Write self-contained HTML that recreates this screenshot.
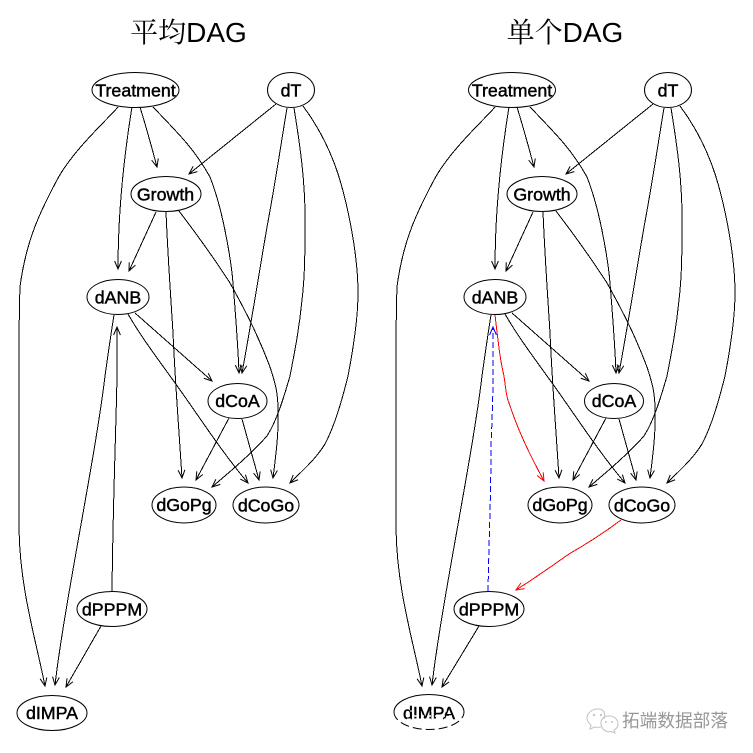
<!DOCTYPE html>
<html>
<head>
<meta charset="utf-8">
<style>
html,body{margin:0;padding:0;background:#fff;width:753px;height:753px;overflow:hidden}
svg{display:block}
.t{font-family:"Liberation Sans",sans-serif;font-size:17.8px;text-anchor:middle;fill:#000;stroke:#000;stroke-width:.45}
.h{font-family:"Liberation Sans","Noto Serif CJK SC",serif;font-size:28px;text-anchor:middle;fill:#000}
.wm{font-family:"Liberation Sans","Noto Sans CJK SC",sans-serif;font-size:18px;fill:#979797}
.n{fill:#fff;stroke:#000;stroke-width:1}
.e path{fill:none;stroke:#000;stroke-width:1;marker-end:url(#ak)}
</style>
</head>
<body>
<svg width="753" height="753" viewBox="0 0 753 753" xmlns="http://www.w3.org/2000/svg">
<defs>
<marker id="ak" markerUnits="userSpaceOnUse" markerWidth="24" markerHeight="24" refX="12" refY="12" orient="auto" overflow="visible"><path d="M4 8.6L12 12L4 15.4" fill="none" stroke="#000" stroke-width="1"/></marker>
<marker id="ar" markerUnits="userSpaceOnUse" markerWidth="24" markerHeight="24" refX="12" refY="12" orient="auto" overflow="visible"><path d="M4 8.6L12 12L4 15.4" fill="none" stroke="#f00" stroke-width="1"/></marker>
<marker id="ab" markerUnits="userSpaceOnUse" markerWidth="24" markerHeight="24" refX="12" refY="12" orient="auto" overflow="visible"><path d="M4 8.6L12 12L4 15.4" fill="none" stroke="#00f" stroke-width="1"/></marker>
<g id="edges" class="e">
<path d="M118 107C108 119 73 150 57 180C41 210 26 240 20 287C18 340 19 450 19 529C20 590 36 640 45 686"/>
<path d="M132 107C125 150 118 210 118 269"/>
<path d="M140 107C147 130 152 148 157 167"/>
<path d="M153 107C180 135 195 150 210 177C225 215 232 270 233 283C236 320 238 345 239 373"/>
<path d="M276 104L189 174"/>
<path d="M287 108C280 150 275 185 267 227C258 280 250 330 242 373"/>
<path d="M294 108C300 145 305 180 305 217C305 250 305 275 302 300C299 330 295 350 290 376C283 400 277 420 267 436C250 455 232 470 212 487"/>
<path d="M303 106C315 122 325 140 333 160C345 190 358 250 358 293C358 320 353 350 348 376C342 400 335 425 325 444C315 460 303 470 290 483"/>
<path d="M156 212L129 271"/>
<path d="M166 212C168 260 171 300 173 333C175 380 179 430 182 478"/>
<path d="M179 211C195 232 212 255 230 283C245 310 258 335 270 367C276 385 278 395 278 409C279 430 276 455 273 478"/>
<path d="M135 313L212 381"/>
<path d="M128 314C140 335 155 355 170 376C195 410 220 450 248 483"/>
<path d="M114 315C110 340 108 355 105 376C95 460 65 600 55 685"/>
<path d="M229 418L196 480"/>
<path d="M242 419L259 480"/>
</g>
</defs>

<text class="h" x="188.5" y="42">平均DAG</text>
<text class="h" x="565" y="42">单个DAG</text>

<g shape-rendering="crispEdges">
<use href="#edges"/>
<use href="#edges" x="377"/>
<g class="e">
<path d="M112 591C113 500 116 430 117 376C117 360 117 345 117 327"/>
<path d="M101 626L66 687"/>
<path d="M479 626L442 687"/>
</g>
<path d="M495 315C498 340 500 360 504 376C506 390 506 395 509 403C513 415 518 428 523 439C530 455 537 468 544 481" fill="none" stroke="#f00" marker-end="url(#ar)"/>
<path d="M621 520C605 532 590 542 569 554C552 566 535 578 516 590" fill="none" stroke="#f00" marker-end="url(#ar)"/>
<path d="M488 591C489 540 491 490 491 446C492 420 493 400 493 376C493 360 493 345 493 327" fill="none" stroke="#00f" stroke-dasharray="6 3" marker-end="url(#ab)"/>
</g>

<ellipse class="n" cx="135.5" cy="90" rx="43.5" ry="17.5"/>
<ellipse class="n" cx="291" cy="90" rx="23.5" ry="17.5"/>
<ellipse class="n" cx="166" cy="194" rx="35" ry="17.5"/>
<ellipse class="n" cx="118" cy="297" rx="31" ry="17.5"/>
<ellipse class="n" cx="237.5" cy="401" rx="29.5" ry="17.5"/>
<ellipse class="n" cx="184" cy="505" rx="32" ry="18"/>
<ellipse class="n" cx="266" cy="505" rx="33" ry="18"/>
<ellipse class="n" cx="112" cy="609" rx="35" ry="17.5"/>
<ellipse class="n" cx="52" cy="713" rx="35" ry="17.5"/>

<ellipse class="n" cx="512" cy="90" rx="43.5" ry="17.5"/>
<ellipse class="n" cx="668" cy="90" rx="23.5" ry="17.5"/>
<ellipse class="n" cx="542" cy="194" rx="35" ry="17.5"/>
<ellipse class="n" cx="495" cy="297" rx="31" ry="17.5"/>
<ellipse class="n" cx="614" cy="401" rx="29.5" ry="17.5"/>
<ellipse class="n" cx="560" cy="505" rx="32" ry="18"/>
<ellipse class="n" cx="642" cy="505" rx="33" ry="18"/>
<ellipse class="n" cx="489" cy="609" rx="35" ry="17.5"/>
<path d="M394 712A35 17.5 0 0 1 464 712" fill="none" stroke="#000"/>
<path d="M394 712A35 17.5 0 0 0 464 712" fill="none" stroke="#000" stroke-dasharray="9 4"/>

<text class="t" x="135.5" y="96.5">Treatment</text>
<text class="t" x="291" y="96.5">dT</text>
<text class="t" x="165.5" y="200.5">Growth</text>
<text class="t" x="118" y="303.5">dANB</text>
<text class="t" x="237.5" y="407">dCoA</text>
<text class="t" x="184" y="511">dGoPg</text>
<text class="t" x="266" y="511.5">dCoGo</text>
<text class="t" x="112" y="615.5">dPPPM</text>
<text class="t" x="52" y="719">dIMPA</text>

<text class="t" x="512" y="96.5">Treatment</text>
<text class="t" x="668" y="96.5">dT</text>
<text class="t" x="542" y="200.5">Growth</text>
<text class="t" x="495" y="303.5">dANB</text>
<text class="t" x="614" y="407">dCoA</text>
<text class="t" x="560" y="511">dGoPg</text>
<text class="t" x="642" y="511.5">dCoGo</text>
<text class="t" x="489" y="615.5">dPPPM</text>
<text class="t" x="429" y="719">dIMPA</text>
<path d="M410 711H450" stroke="#fff" stroke-width="1" stroke-dasharray="2 5" fill="none"/>
<path d="M407 716H452" stroke="#fff" stroke-width="1.5" stroke-dasharray="3 4" fill="none"/>
<path d="M407 719.5H452" stroke="#fff" stroke-width="2" stroke-dasharray="7 3" stroke-dashoffset="3" fill="none"/>

<g fill="none" stroke="#c4c4c4" stroke-width="1.1">
<path d="M604 719C606 712 603 709 598 709C592 709 587 713 587 718C587 721 589 723 591 725L590 729L595 727C597 727.5 599 727.5 601 727"/>
<path d="M601 723C601 718 605 716 609 716C614 716 618 719 618 724C618 727 616 729 614 730L615 733L611 731.5C606 733 601 729 601 723Z"/>
</g>
<g fill="#c4c4c4"><circle cx="594" cy="715" r="1.2"/><circle cx="601" cy="715" r="1.2"/><circle cx="606" cy="722" r="1"/><circle cx="612" cy="722" r="1"/></g>
<text class="wm" x="622" y="727" textLength="106" lengthAdjust="spacingAndGlyphs">拓端数据部落</text>
</svg>
</body>
</html>
